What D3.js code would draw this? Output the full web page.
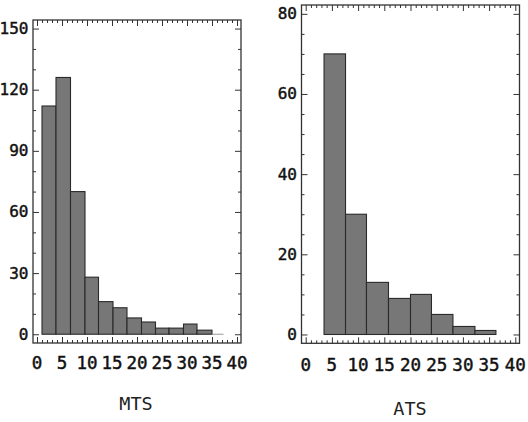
<!DOCTYPE html>
<html>
<head>
<meta charset="utf-8">
<script src="https://cdn.jsdelivr.net/npm/d3@7"></script>
<style>
  body { margin: 0; background: #fff; }
  svg { display: block; }
</style>
</head>
<body>
<div id="chart"></div>
<script>
// Histogram data
const mtsEdges = [1, 3.8, 6.7, 9.6, 12.3, 15.2, 18, 20.9, 23.7, 26.4, 29.3, 32, 35, 37.3];
const mtsCounts = [112, 126, 70, 28, 16, 13, 8, 6, 3, 3, 5, 2, 0];
const atsEdges = [3.5, 7.6, 11.6, 15.8, 20, 24, 28.1, 32.3, 36.3];
const atsCounts = [70, 30, 13, 9, 10, 5, 2, 1];
const xTicks = [0, 5, 10, 15, 20, 25, 30, 35, 40];
const mtsYTicks = [0, 30, 60, 90, 120, 150];
const atsYTicks = [0, 20, 40, 60, 80];

const svg = d3.select("#chart")
    .append("svg")
    .attr("width", 528)
    .attr("height", 422);

const monoFont = "'DejaVu Sans Mono', monospace";

// one framed histogram panel
function panel(cfg) {
    const x = d3.scaleLinear().domain([-0.8, 40.8]).range([cfg.left, cfg.right]);
    const y = d3.scaleLinear().domain(cfg.yDomain).range([cfg.bottom, cfg.top]);
    const g = svg.append("g");

    // bars
    const bins = cfg.counts.map((c, i) => ({ x0: cfg.edges[i], x1: cfg.edges[i + 1], n: c }));
    g.selectAll("rect.bar")
        .data(bins.filter(d => d.n > 0))
        .enter()
        .append("rect")
        .attr("class", "bar")
        .attr("x", d => x(d.x0))
        .attr("y", d => y(d.n))
        .attr("width", d => x(d.x1) - x(d.x0))
        .attr("height", d => y(0) - y(d.n))
        .attr("fill", "#777")
        .attr("stroke", "#2a2a2a")
        .attr("stroke-width", 1.1);
    // empty bins show up as a faint base line
    g.selectAll("line.empty")
        .data(bins.filter(d => d.n === 0))
        .enter()
        .append("line")
        .attr("x1", d => x(d.x0))
        .attr("x2", d => x(d.x1))
        .attr("y1", y(0))
        .attr("y2", y(0))
        .attr("stroke", "#999")
        .attr("stroke-width", 1);

    // inward ticks on all four sides
    const xMinor = d3.range(0, 41, 1);
    const yMinor = d3.range(0, cfg.yDomain[1], cfg.yMinorStep);
    const tickSize = v => (v % 5 === 0 ? 6 : 3);
    const yTickSize = v => (cfg.yTicks.includes(v) ? 6 : 3);

    g.append("g")
        .attr("transform", `translate(0,${cfg.bottom})`)
        .call(d3.axisTop(x).tickValues(xMinor).tickFormat("").tickSizeOuter(0))
        .call(a => a.select(".domain").remove())
        .call(a => a.selectAll(".tick line").attr("y2", d => -tickSize(d)).attr("stroke", "#333"));
    g.append("g")
        .attr("transform", `translate(0,${cfg.top})`)
        .call(d3.axisBottom(x).tickValues(xMinor).tickFormat("").tickSizeOuter(0))
        .call(a => a.select(".domain").remove())
        .call(a => a.selectAll(".tick line").attr("y2", d => tickSize(d)).attr("stroke", "#333"));
    g.append("g")
        .attr("transform", `translate(${cfg.left},0)`)
        .call(d3.axisRight(y).tickValues(yMinor).tickFormat("").tickSizeOuter(0))
        .call(a => a.select(".domain").remove())
        .call(a => a.selectAll(".tick line").attr("x2", d => yTickSize(d)).attr("stroke", "#333"));
    g.append("g")
        .attr("transform", `translate(${cfg.right},0)`)
        .call(d3.axisLeft(y).tickValues(yMinor).tickFormat("").tickSizeOuter(0))
        .call(a => a.select(".domain").remove())
        .call(a => a.selectAll(".tick line").attr("x2", d => -yTickSize(d)).attr("stroke", "#333"));

    // tick labels
    g.selectAll("text.xl")
        .data(xTicks)
        .enter()
        .append("text")
        .attr("class", "xl")
        .attr("x", d => x(d))
        .attr("y", cfg.bottom + cfg.xLabelOffset)
        .attr("text-anchor", "middle")
        .attr("dominant-baseline", "central")
        .style("font-family", monoFont)
        .style("font-size", "17.5px")
        .attr("fill", "#111")
        .attr("stroke", "#111")
        .attr("stroke-width", 0.45)
        .text(d => d);
    g.selectAll("text.yl")
        .data(cfg.yTicks)
        .enter()
        .append("text")
        .attr("class", "yl")
        .attr("x", cfg.left - 4.5)
        .attr("y", d => y(d))
        .attr("text-anchor", "end")
        .attr("dominant-baseline", "central")
        .style("font-family", monoFont)
        .style("font-size", "16px")
        .attr("fill", "#111")
        .attr("stroke", "#111")
        .attr("stroke-width", 0.45)
        .text(d => d);

    // frame
    g.append("rect")
        .attr("x", cfg.left)
        .attr("y", cfg.top)
        .attr("width", cfg.right - cfg.left)
        .attr("height", cfg.bottom - cfg.top)
        .attr("fill", "none")
        .attr("stroke", "#333")
        .attr("stroke-width", 1.3);

    // axis title
    g.append("text")
        .attr("x", cfg.titleX)
        .attr("y", cfg.titleY)
        .attr("text-anchor", "middle")
        .attr("dominant-baseline", "central")
        .style("font-family", monoFont)
        .style("font-size", "18.5px")
        .attr("fill", "#222")
        .text(cfg.title);
}

panel({
    left: 33, right: 241, top: 20, bottom: 343,
    yDomain: [-4.3, 154.2], yTicks: mtsYTicks, yMinorStep: 10,
    edges: mtsEdges, counts: mtsCounts,
    xLabelOffset: 20, title: "MTS", titleX: 136, titleY: 403
});

panel({
    left: 301.5, right: 519.5, top: 5, bottom: 343.3,
    yDomain: [-2.2, 82.2], yTicks: atsYTicks, yMinorStep: 5,
    edges: atsEdges, counts: atsCounts,
    xLabelOffset: 22, title: "ATS", titleX: 410, titleY: 408
});
</script>
</body>
</html>
